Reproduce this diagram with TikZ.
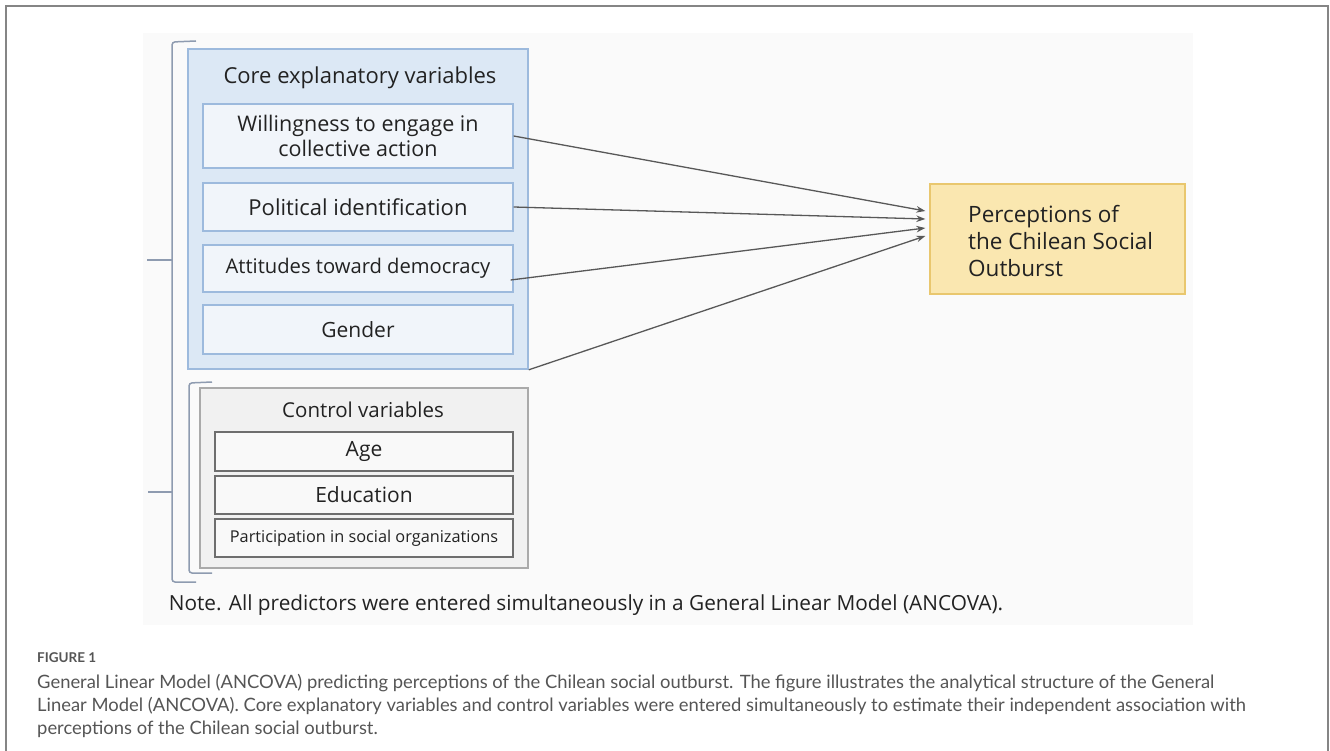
\documentclass[tikz,border=0pt]{standalone}
\usepackage{fontspec}
\setmainfont{Open Sans}
\newfontfamily\capfont{Lato}
\usetikzlibrary{arrows.meta,calc}
\definecolor{frameC}{HTML}{858585}
\definecolor{bgC}{HTML}{FAFAFA}
\definecolor{brC}{HTML}{8E9BB0}
\definecolor{coreEdge}{HTML}{9DBADD}
\definecolor{coreFill}{HTML}{DCE8F5}
\definecolor{inFill}{HTML}{F1F5FA}
\definecolor{ctrlEdge}{HTML}{AAAAAA}
\definecolor{ctrlFill}{HTML}{F1F1F1}
\definecolor{cEdge}{HTML}{6E6E6E}
\definecolor{tgtFill}{HTML}{FAE7B0}
\definecolor{tgtEdge}{HTML}{E9C76E}
\definecolor{txtC}{HTML}{222222}
\definecolor{arrC}{HTML}{585858}
\definecolor{capC}{HTML}{555555}
\newcommand{\fs}[1]{\fontsize{#1}{1.2\dimexpr#1pt\relax}\selectfont}
\begin{document}
\begin{tikzpicture}[x=1pt,y=-1pt,
  dfont/.style={font=\fs{21}, text=txtC},
  corebox/.style={draw=coreEdge, fill=coreFill, line width=1.6pt, minimum width=340pt, minimum height=320pt},
  inbox/.style={draw=coreEdge, fill=inFill, line width=1.3pt, minimum width=310pt, align=center, inner sep=0pt, dfont},
  ctrlbox/.style={draw=ctrlEdge, fill=ctrlFill, line width=1.5pt, minimum width=328pt, minimum height=180pt},
  cbox/.style={draw=cEdge, fill=white!60!ctrlFill, line width=1.1pt, minimum width=298pt, inner sep=0pt, dfont},
  tgtbox/.style={draw=tgtEdge, fill=tgtFill, line width=1.3pt, minimum width=255pt, minimum height=110pt},
  brace/.style={draw=brC, line width=1.5pt, rounded corners=3pt},
  conn/.style={draw=arrC, line width=1.3pt, -{Stealth[length=9pt,width=6.5pt]}}
]
\useasboundingbox (0,0) rectangle (1330,751);
% outer frame
\draw[frameC, line width=1.8pt] (6,751) -- (6,6) -- (1328,6) -- (1328,751);
% figure background
\fill[bgC] (143,33) rectangle (1193,625);
% brackets
\draw[brace] (196,41) -- (172,42) -- (172,582) -- (196,582);
\draw[brace, rounded corners=0pt] (147,260) -- (172,260);
\draw[brace, rounded corners=0pt] (148,492) -- (172,492);
\draw[brace] (212,382) -- (189,383) -- (189,573) -- (212,573);
% core block
\node[corebox] (core) at (358,209) {};
\node[dfont, font=\fs{22}] (coret) at (360,78) {Core explanatory variables};
\node[inbox, minimum height=64pt, font=\fs{21.5}] (b1) at (358,136) {Willingness to engage in\\collective action};
\node[inbox, minimum height=48pt, font=\fs{22}] (b2) at (358,207) {Political identification};
\node[inbox, minimum height=47pt, font=\fs{20.2}] (b3) at (358,268.5) {Attitudes toward democracy};
\node[inbox, minimum height=49pt] (b4) at (358,329.5) {Gender};
% control block
\node[ctrlbox] (ctrl) at (364,478) {};
\node[dfont, font=\fs{20.5}] (ctrlt) at (363,410) {Control variables};
\node[cbox, minimum height=39pt] (c1) at (364,451.5) {Age};
\node[cbox, minimum height=38pt] (c2) at (364,495) {Education};
\node[cbox, minimum height=38pt, font=\fs{16.3}] (c3) at (364,538) {Participation in social organizations};
% target
\node[tgtbox] (tgt) at (1057.5,239) {};
\node[dfont, font=\fs{22.5}, anchor=west, align=left, inner sep=0pt] (tgtt) at (968,241) {Perceptions of\\the Chilean Social\\Outburst};
% arrow end points
\coordinate (e1) at ($(tgt.west)+(-4,-28)$);
\coordinate (e2) at ($(tgt.west)+(-4,-20)$);
\coordinate (e3) at ($(tgt.west)+(-4,-11)$);
\coordinate (e4) at ($(tgt.west)+(-4,-3)$);
\coordinate (s3) at ($(b3.east)+(-3,11.5)$);
\draw[conn] (b1.east) -- (e1);
\draw[conn] (b2.east) -- (e2);
\draw[conn] (s3) -- (e3);
\draw[conn] (core.south east) -- (e4);
% note
\node[dfont, font=\fs{20.8}] (note) at (586,605) {Note. All predictors were entered simultaneously in a General Linear Model (ANCOVA).};
% caption
\node[anchor=west, inner sep=0pt, text=capC, font=\capfont\bfseries\fs{13.5}] (figlab) at (37,658) {FIGURE 1};
\node[anchor=north west, inner sep=0pt, text=capC, align=left, font=\capfont\fontsize{18.4}{23}\selectfont] (cap) at (37,674) {General Linear Model (ANCOVA) predicting perceptions of the Chilean social outburst. The figure illustrates the analytical structure of the General\\Linear Model (ANCOVA). Core explanatory variables and control variables were entered simultaneously to estimate their independent association with\\perceptions of the Chilean social outburst.};
\end{tikzpicture}
\end{document}
